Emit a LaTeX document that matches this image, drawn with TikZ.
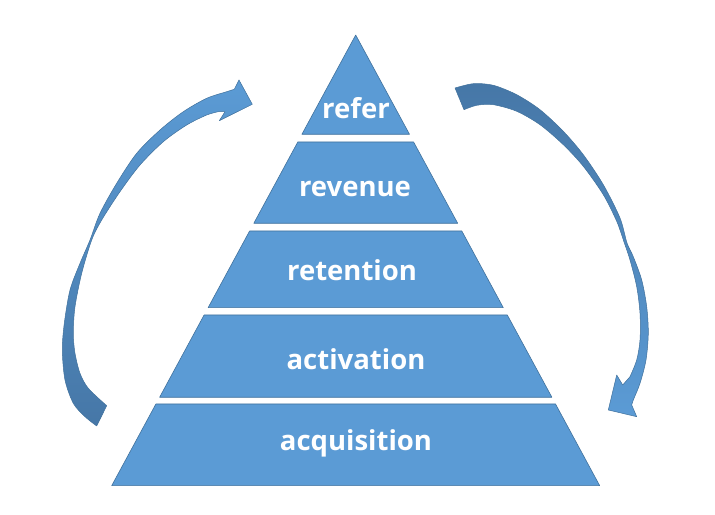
\documentclass[tikz,border=0pt]{standalone}
\usepackage{fontspec}
\setmainfont{Open Sans}
\definecolor{layerblue}{HTML}{5B9BD5}
\definecolor{edgeblue}{HTML}{41719C}
\definecolor{arrowdark}{HTML}{4677A7}

\begin{document}
\begin{tikzpicture}[line join=bevel,
  layer/.style={fill=layerblue,draw=edgeblue,line width=0.6bp},
  layertext/.style={text=white,font=\fontsize{27.5bp}{32bp}\selectfont\bfseries,anchor=base,inner sep=0pt},
  bend_arrow/.style={draw=edgeblue,line width=0.5bp,line join=round}]
\useasboundingbox (0bp,0bp) rectangle (715bp,515bp);
%%
\path[layer] (355.7bp,480bp) -- (409.5bp,380.7bp) -- (301.9bp,380.7bp) -- cycle;
\path[layer] (297.8bp,373bp) -- (413.6bp,373bp) -- (457.7bp,291.7bp) -- (253.8bp,291.7bp) -- cycle;
\path[layer] (249.6bp,284bp) -- (461.8bp,284bp) -- (503.3bp,207.3bp) -- (208.1bp,207.3bp) -- cycle;
\path[layer] (204.1bp,200bp) -- (507.3bp,200bp) -- (551.9bp,117.7bp) -- (159.6bp,117.7bp) -- cycle;
\path[layer] (155.9bp,111bp) -- (555.5bp,111bp) -- (599.7bp,29.3bp) -- (111.7bp,29.3bp) -- cycle;
  \node (layer_refer) at (356bp,396bp) [layertext] {refer};
  \node (layer_revenue) at (355bp,318.3bp) [layertext] {revenue};
  \node (layer_retention) at (352bp,234.3bp) [layertext] {retention};
  \node (layer_activation) at (356bp,145bp) [layertext] {activation};
  \node (layer_acquisition) at (356bp,64.3bp) [layertext] {acquisition};
%
\shade[bend_arrow,top color=layerblue,bottom color=arrowdark]
  plot[smooth] coordinates {(96.7bp,89bp) (85bp,98.3bp) (73.3bp,111.7bp) (65bp,135bp) (62.3bp,165bp) (64.3bp,191.7bp) (70bp,225bp) (80bp,251.7bp) (90bp,275bp) (100bp,301.7bp) (116.7bp,331.7bp) (136.7bp,361.7bp) (160bp,385bp) (183.3bp,403.3bp) (206.7bp,416.7bp) (226.7bp,423.3bp) (234.3bp,425.7bp)}
  -- (239bp,435bp) -- (252.3bp,410.7bp) -- (219.3bp,394.3bp) -- (225bp,403.3bp)
  -- plot[smooth] coordinates {(218.3bp,403.3bp) (206.7bp,400bp) (186.7bp,390bp) (163.3bp,373.3bp) (140bp,350bp) (120bp,323.3bp) (101.7bp,295bp) (91.7bp,275bp) (81.7bp,241.7bp) (75bp,208.3bp) (73.3bp,181.7bp) (75bp,161.7bp) (80bp,141.7bp) (88.3bp,126.7bp) (106.7bp,109.3bp)}
  -- cycle;
\shade[bend_arrow,top color=arrowdark,bottom color=layerblue]
  plot[smooth] coordinates {(455bp,427bp) (473.3bp,431.3bp) (493.3bp,429.7bp) (516.7bp,420.3bp) (540bp,405.3bp) (563.3bp,383.7bp) (583.3bp,360.3bp) (603.3bp,330.3bp) (620bp,297bp) (627bp,272bp) (633.3bp,258.3bp) (641.7bp,235bp) (646.7bp,208.3bp) (648.3bp,181.7bp) (646bp,155bp) (640bp,131.7bp) (633.3bp,115bp) (631.7bp,110bp)}
  -- (636.7bp,98.3bp) -- (608.3bp,105bp) -- (616.7bp,140bp) -- (622.7bp,130bp)
  -- plot[smooth] coordinates {(630bp,138.3bp) (636.7bp,155bp) (640bp,175bp) (640bp,201.7bp) (636.7bp,228.3bp) (630bp,255bp) (624bp,273bp) (616.7bp,293.7bp) (603.3bp,320.3bp) (583.3bp,348.7bp) (563.3bp,370.3bp) (540bp,390.3bp) (516.7bp,403.7bp) (493.3bp,410.3bp) (476.7bp,409.7bp) (464bp,405.3bp)}
  -- cycle;
%
\end{tikzpicture}
\end{document}
